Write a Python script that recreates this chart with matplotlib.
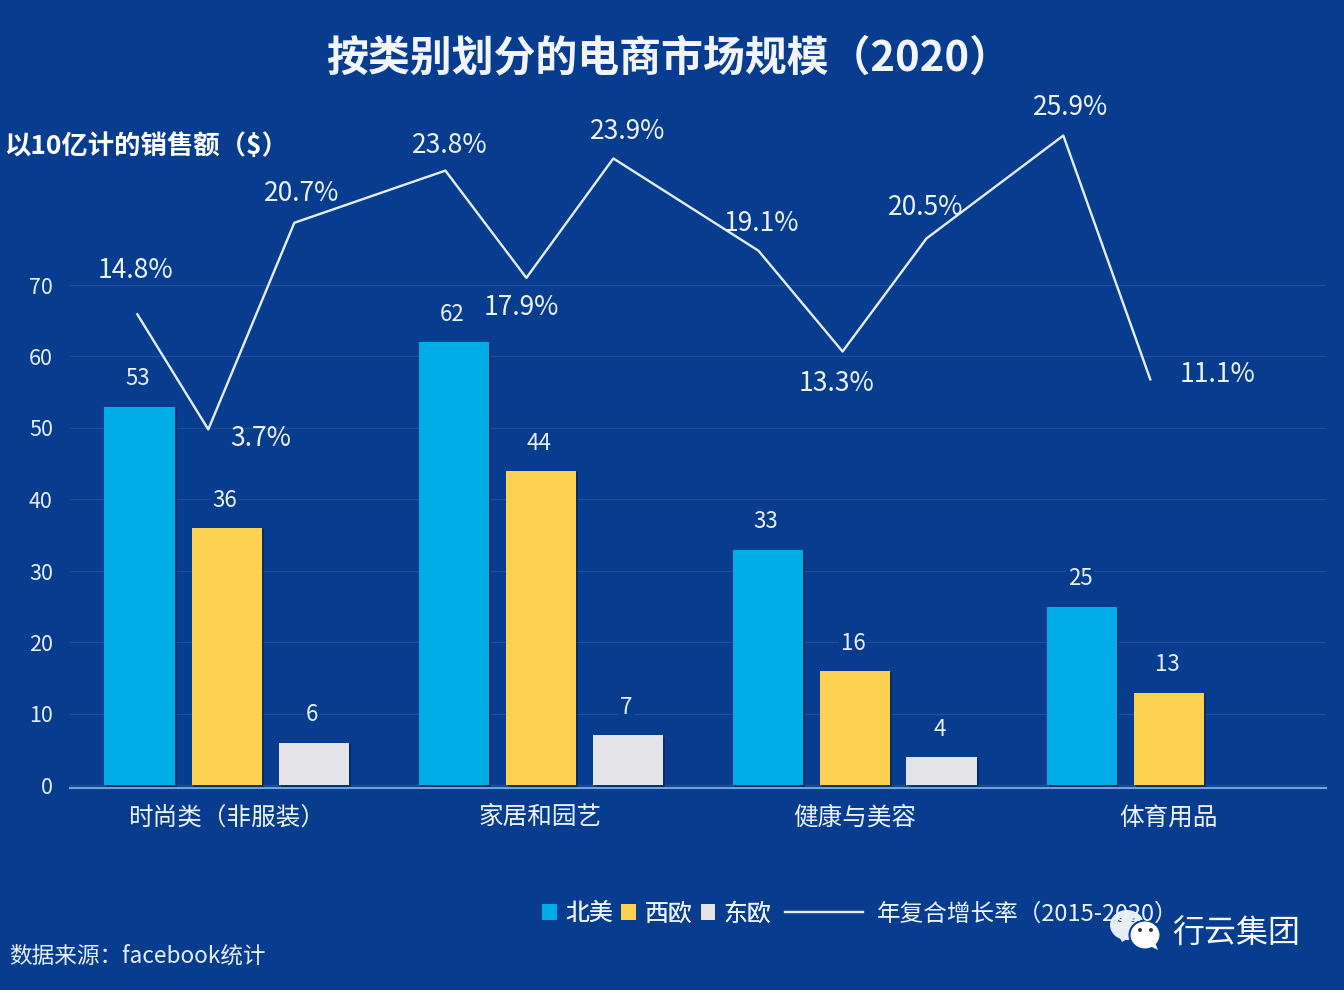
import matplotlib
matplotlib.use("Agg")
import matplotlib.pyplot as plt
import matplotlib.patheffects as pe
from matplotlib.patches import Patch, Ellipse, Polygon
import numpy as np

plt.rcParams['font.family'] = ['Noto Sans CJK SC', 'DejaVu Sans']

categories = ['时尚类（非服装）', '家居和园艺', '健康与美容', '体育用品']
north_america = [53, 62, 33, 25]
west_europe = [36, 44, 16, 13]
east_europe = [6, 7, 4, None]
yticks = [0, 10, 20, 30, 40, 50, 60, 70]

# Hand-drawn growth line: positions read against the chart's axes
growth_labels = ['14.8%', '3.7%', '20.7%', '23.8%', '17.9%', '23.9%', '19.1%', '13.3%', '20.5%', '25.9%', '11.1%']
growth_x = [-0.284, -0.058, 0.216, 0.697, 0.955, 1.232, 1.694, 1.962, 2.229, 2.665, 2.942]
growth_y = [65.9, 49.8, 78.7, 86.0, 71.0, 87.7, 74.8, 60.7, 76.5, 90.9, 56.8]
label_dx = [-2, 52, 7, 4, -5, 14, 3, -6, -1, 7, 67]
label_dy = [44, -9, 29, 25, -30, 27, 27, -32, 31, 28, 5]

BG = '#083c8e'
W, H = 1344, 990
fig = plt.figure(figsize=(W / 100, H / 100), dpi=100, facecolor=BG)
left, right = 69.5, 1325.5
scale = 7.15
ymin, ymax = -0.3, 100
y0 = 785.5 + (-ymin) * scale
top = 785.5 - ymax * scale
ax = fig.add_axes([left / W, 1 - y0 / H, (right - left) / W, (y0 - top) / H], facecolor='none')
ax.set_xlim(-0.5, 3.5)
ax.set_ylim(ymin, ymax)

x = np.arange(len(categories))
off = 87 / 314
bw = 70 / 314
shadow = [pe.SimplePatchShadow(offset=(2, -1), shadow_rgbFace='#05224f', alpha=0.6), pe.Normal()]
series = [(north_america, '#00ade6', -off, '北美'), (west_europe, '#fcd050', 0, '西欧'), (east_europe, '#e4e3e8', off, '东欧')]
bar_handles = []
for vals, col, dx, name in series:
    for xi, v in zip(x, vals):
        if v is None:
            continue
        ax.bar(xi + dx, v, bw, color=col, zorder=3, path_effects=shadow)
        ax.annotate(str(v), (xi + dx, v), xytext=(-1, 20), textcoords='offset points', ha='center', va='center',
                    color='#eaf1fa', fontsize=16, zorder=4,
                    bbox=dict(facecolor=BG, edgecolor='none', pad=1.5))
    bar_handles.append(Patch(facecolor=col, label=name))

ax.set_yticks(yticks)
ax.set_xticks(x, categories)
ax.tick_params(axis='both', length=0)
ax.tick_params(axis='y', labelsize=15.5, labelcolor='#eaf1fa', pad=12)
ax.tick_params(axis='x', labelsize=17.7, labelcolor='#eef4fb', pad=12)
ax.yaxis.grid(True, color='#1f5199', lw=0.9, zorder=1)
ax.set_axisbelow(True)
for s in ['left', 'right', 'top']:
    ax.spines[s].set_visible(False)
ax.spines['bottom'].set_color('#6ea3d8')
ax.spines['bottom'].set_linewidth(1.5)

line, = ax.plot(growth_x, growth_y, color='#e6eff9', lw=1.7, zorder=5, label='年复合增长率（2015-2020）')
for gx, gy, t, dx, dy in zip(growth_x, growth_y, growth_labels, label_dx, label_dy):
    ax.annotate(t, (gx, gy), xytext=(dx * 0.72, dy * 0.72), textcoords='offset points', ha='center', va='center',
                color='#eef4fb', fontsize=19, zorder=6)

fig.text(669 / W, 1 - 58 / H, '按类别划分的电商市场规模（2020）', ha='center', va='center', color='#f2f6fc',
         fontsize=30.2, fontweight='bold')
fig.text(4 / W, 1 - 146 / H, '以10亿计的销售额（$）', ha='left', va='center', color='white', fontsize=19, fontweight='bold')
fig.text(9 / W, 1 - 956 / H, '数据来源：facebook统计', ha='left', va='center', color='#e6eef9', fontsize=16.3)

leg1 = fig.legend(handles=bar_handles, loc='center left', bbox_to_anchor=(542 / W, 1 - 914 / H), ncol=3, frameon=False,
                  fontsize=17.2, labelcolor='#eef4fb', handlelength=0.62, handleheight=0.62, handletextpad=0.35,
                  columnspacing=0.35, borderpad=0, borderaxespad=0)
leg2 = fig.legend(handles=[line], loc='center left', bbox_to_anchor=(785 / W, 1 - 914 / H), frameon=False,
                  fontsize=17, labelcolor='#eef4fb', handlelength=3.3, handletextpad=0.6, borderpad=0, borderaxespad=0)
fig.add_artist(leg1)

# Watermark drawn in an overlay in pixel coordinates
ov = fig.add_axes([0, 0, 1, 1], facecolor='none')
ov.set_xlim(0, W)
ov.set_ylim(H, 0)
ov.axis('off')
ov.add_patch(Ellipse((1127, 925), 34, 30, fc='#e8eef8', ec='none', zorder=7))
ov.add_patch(Polygon([(1118, 934), (1122, 942), (1130, 937)], fc='#e8eef8', ec='none', zorder=7))
ov.add_patch(Ellipse((1145, 935), 31, 29, fc='white', ec=BG, lw=1.5, zorder=8))
ov.add_patch(Polygon([(1148, 945), (1158, 950), (1154, 940)], fc='white', ec='none', zorder=8))
for ex, ey in [(1120, 920), (1133, 920), (1140, 930), (1151, 930)]:
    ov.add_patch(Ellipse((ex, ey), 4, 4, fc='#333a48', ec='none', zorder=9))
ov.text(1172, 934, '行云集团', ha='left', va='center', color='#f4f7fc', fontsize=23, zorder=9)

fig.savefig('out.png', dpi=100, facecolor=BG)
